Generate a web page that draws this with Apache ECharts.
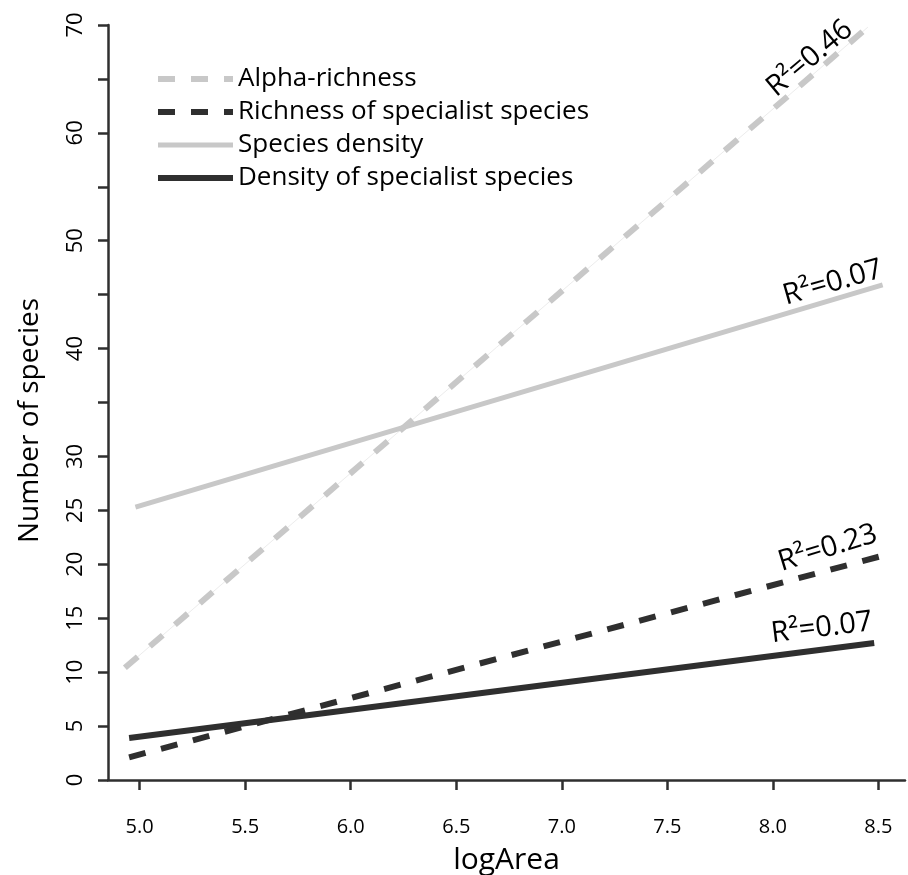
<!DOCTYPE html>
<html>
<head>
<meta charset="utf-8">
<script src="https://cdn.jsdelivr.net/npm/echarts@6/dist/echarts.min.js"></script>
<style>
  html, body { margin: 0; padding: 0; background: #ffffff; }
  #main { width: 908px; height: 875px; }
</style>
</head>
<body>
<div id="main"></div>
<script>
// fitted lines as [logArea, number of species] end points
var alphaRichness = [[4.93, 10.4], [8.45, 69.8]]
var specialistRichness = [[4.95, 2.1], [8.54, 20.9]]
var speciesDensity = [[4.98, 25.3], [8.52, 45.9]]
var specialistDensity = [[4.95, 3.9], [8.48, 12.7]]

var seriesNames = ["Alpha-richness", "Richness of specialist species", "Species density", "Density of specialist species"]
var r2Labels = ["R²=0.46", "R²=0.23", "R²=0.07", "R²=0.07"]

// axis ticks
var xTicks = [5.0, 5.5, 6.0, 6.5, 7.0, 7.5, 8.0, 8.5]
var yTicks = [0, 5, 10, 15, 20, 25, 30, 35, 40, 45, 50, 55, 60, 65, 70]
var yTickLabels = [0, 5, 10, 15, 20, 25, 30, 40, 50, 60, 70]

// where the R² texts sit (data coords) and how they are turned
var r2Pos = [[8.175, 66.9], [8.26, 21.5], [8.284, 46.1], [8.232, 14.1]]
var r2Angle = [40, 17, 16, 7]

var LIGHT = "#c8c8c8"
var DARK = "#2f2f2f"
var FONT = "Open Sans"

var chart = echarts.init(document.getElementById("main"))

function r2Mark(i) {
  return {
    symbol: "circle",
    symbolSize: 0,
    silent: true,
    label: {
      show: true,
      position: "inside",
      formatter: r2Labels[i],
      rotate: r2Angle[i],
      color: "#000000",
      fontFamily: FONT,
      fontSize: 29
    },
    data: [{ coord: r2Pos[i] }]
  }
}

var legendData = seriesNames.map(function (n, i) {
  return { name: n, lineStyle: { width: i === 2 ? 5 : 6 } }
})

var option = {
  animation: false,
  backgroundColor: "#ffffff",
  grid: { left: 108, right: 3, top: 25, bottom: 95, outerBoundsMode: "none" },
  legend: {
    orient: "vertical",
    left: 150,
    top: 61,
    itemWidth: 75,
    itemHeight: 28,
    itemGap: 7,
    data: legendData,
    itemStyle: { opacity: 0 },
    textStyle: { color: "#000000", fontFamily: FONT, fontSize: 26 }
  },
  xAxis: {
    type: "value",
    min: 4.85,
    max: 8.626,
    offset: 14,
    name: "logArea",
    nameLocation: "middle",
    nameGap: 51,
    nameTextStyle: { color: "#000000", fontFamily: FONT, fontSize: 30 },
    axisLine: { lineStyle: { color: DARK, width: 2.5 } },
    axisTick: { show: true, length: 10, customValues: xTicks, lineStyle: { color: DARK, width: 2.5 } },
    axisLabel: {
      customValues: xTicks,
      formatter: function (v) { return v.toFixed(1) },
      margin: 23,
      color: "#000000",
      fontFamily: FONT,
      fontSize: 20
    },
    splitLine: { show: false }
  },
  yAxis: {
    type: "value",
    min: 0,
    max: 70,
    name: "Number of species",
    nameLocation: "middle",
    nameGap: 64,
    nameRotate: 90,
    nameTextStyle: { color: "#000000", fontFamily: FONT, fontSize: 28, padding: [0, 36, 0, 0] },
    axisLine: { lineStyle: { color: DARK, width: 2.5 } },
    axisTick: { show: true, length: 10, customValues: yTicks, lineStyle: { color: DARK, width: 2.5 } },
    axisLabel: {
      customValues: yTickLabels,
      rotate: 90,
      margin: 21,
      color: "#000000",
      fontFamily: FONT,
      fontSize: 22
    },
    splitLine: { show: false }
  },
  series: [
    {
      name: seriesNames[0],
      type: "line",
      data: alphaRichness,
      symbol: "none",
      lineStyle: { color: LIGHT, width: 6, type: [17, 16] },
      itemStyle: { color: LIGHT },
      z: 3,
      markPoint: r2Mark(0)
    },
    {
      name: "alpha-thin",
      type: "line",
      data: alphaRichness,
      symbol: "none",
      lineStyle: { color: "#ececec", width: 1 },
      z: 2
    },
    {
      name: seriesNames[1],
      type: "line",
      data: specialistRichness,
      symbol: "none",
      lineStyle: { color: DARK, width: 6, type: [17, 16] },
      itemStyle: { color: DARK },
      z: 3,
      markPoint: r2Mark(1)
    },
    {
      name: seriesNames[2],
      type: "line",
      data: speciesDensity,
      symbol: "none",
      lineStyle: { color: LIGHT, width: 5 },
      itemStyle: { color: LIGHT },
      z: 3,
      markPoint: r2Mark(2)
    },
    {
      name: seriesNames[3],
      type: "line",
      data: specialistDensity,
      symbol: "none",
      lineStyle: { color: DARK, width: 6 },
      itemStyle: { color: DARK },
      z: 3,
      markPoint: r2Mark(3)
    }
  ]
}

chart.setOption(option)
</script>
</body>
</html>
